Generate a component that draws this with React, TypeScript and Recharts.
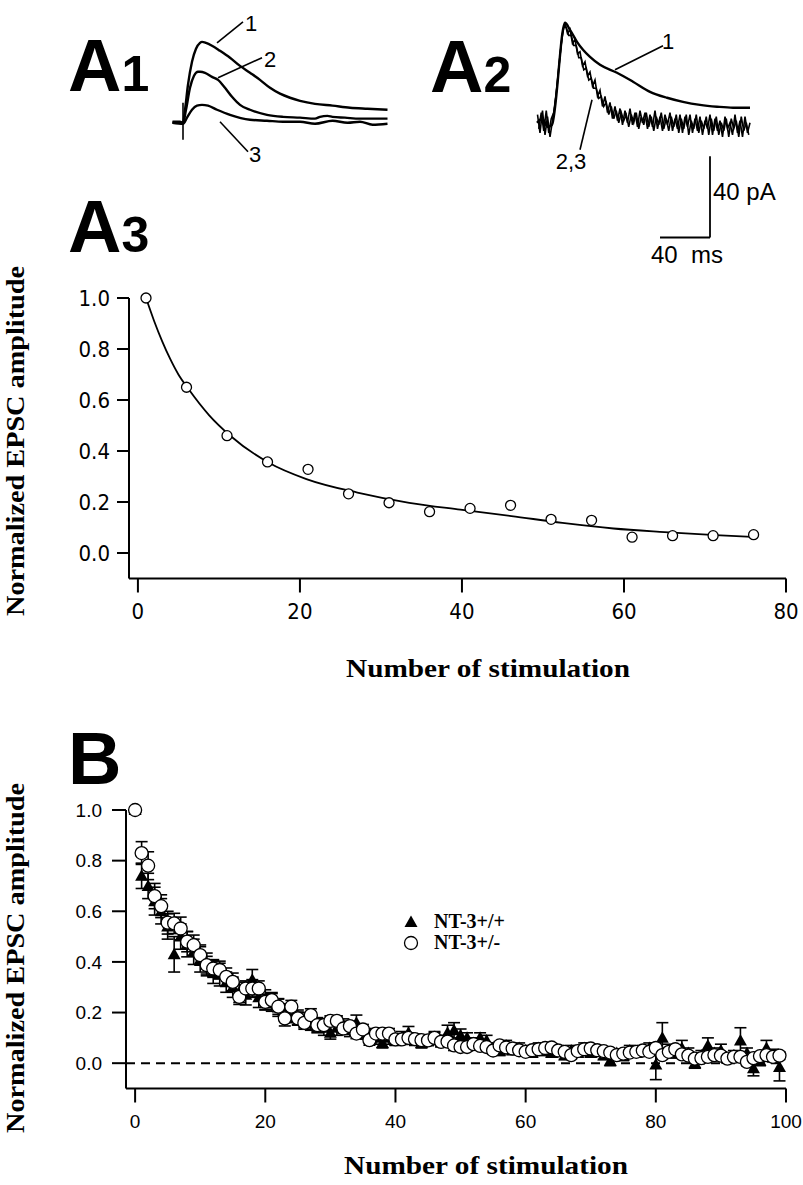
import React from "react";
import { ComposedChart, LineChart, Line, Scatter, XAxis, YAxis, ErrorBar, ReferenceLine, ReferenceDot, Legend } from "recharts";

// A1 / A2 traces: [time ms, current pA]
const a1Trace1 = [[6,0.5],[12,0.5],[14.4,0],[16,6.4],[18.4,18.7],[21.6,30],[24.8,36.4],[28,39.3],[29.6,39.8],[32.8,39.3],[37.6,37.9],[44,35.4],[52,32],[60,28],[68,24.6],[76,21.1],[84,17.2],[92,14.3],[100,12.3],[108,10.8],[120,9.3],[134,8.4],[148,7.4],[162,6.9],[178,6.4]];
const a1Trace2 = [[6,0],[14.4,0],[16.8,6.4],[20,17.2],[23.2,23.1],[26.4,25.1],[28,25.1],[32,24.6],[37.6,22.6],[42.4,21.1],[48,17.2],[53.6,12.8],[60,8.8],[68,6.4],[81.6,3.9],[94.4,2.9],[108,2.5],[120,2.0],[124,2.9],[130,3.4],[134,2.9],[144,2.5],[156,2.0],[178,2.0]];
const a1Trace3 = [[6,0],[14.4,-0.5],[17.6,2.5],[21.6,6.4],[25.6,8.4],[29.6,8.8],[34.4,8.4],[41.6,6.4],[52,3.9],[68,1.5],[81.6,1.0],[94.4,0.5],[108,0.5],[120,-0.5],[134,1.0],[146,0],[156,0.5],[166,-1],[178,-0.5]];
const a2Trace1 = [[5.6,0],[10,2],[14,-2],[17.6,-1],[28,49.2],[32,45.7],[37.6,39.8],[42.4,35.9],[48,32.4],[56,28.5],[69.6,24.6],[82.4,20.2],[96,15.2],[109.6,12.3],[122.4,10.3],[136,8.8],[149.6,7.9],[162.4,7.4],[176,7.4]];
const a2Trace2 = [[6,4],[8,-5],[10,6],[12,-6],[14,3],[16,-7],[18,1],[20,9],[22,20],[24,33],[26,44],[28,49],[30,44],[32,46],[34,39],[36,41],[38,34],[40,35],[42,28],[44,30],[46,23],[48,25],[50,18],[52,21],[54,13],[56,16],[58,8],[60,13],[62,5],[64,10],[66,2],[68,8],[70,1],[72,7],[74,-1],[76,6],[78,0],[80,7],[82,-1],[84,5],[86,-2],[88,6],[90,0],[92,5],[94,-3],[96,4],[98,-2],[100,6],[102,-3],[104,3],[106,-4],[108,4],[110,-1],[112,5],[114,-4],[116,2],[118,-3],[120,4],[122,-5],[124,3],[126,-2],[128,4],[130,-5],[132,2],[134,-4],[136,3],[138,-6],[140,1],[142,-3],[144,4],[146,-6],[148,2],[150,-4],[152,1],[154,-7],[156,3],[158,-3],[160,0],[162,-6],[164,4],[166,-5],[168,1],[170,-7],[172,3],[174,-5],[176,0]];
const a2Trace3 = [[7,-3],[9,5],[11,-4],[13,6],[15,-5],[17,2],[19,5],[21,15],[23,27],[25,39],[27,47],[29,47],[31,43],[33,43],[35,38],[37,38],[39,32],[41,32],[43,26],[45,27],[47,21],[49,22],[51,17],[53,17],[55,12],[57,13],[59,8],[61,10],[63,4],[65,8],[67,2],[69,6],[71,0],[73,5],[75,1],[77,4],[79,-2],[81,4],[83,0],[85,5],[87,-3],[89,3],[91,-1],[93,5],[95,-2],[97,3],[99,-4],[101,3],[103,-1],[105,5],[107,-3],[109,2],[111,-4],[113,3],[115,-2],[117,4],[119,-5],[121,2],[123,-3],[125,4],[127,-6],[129,1],[131,-3],[133,4],[135,-5],[137,1],[139,-3],[141,3],[143,-6],[145,2],[147,-4],[149,3],[151,-6],[153,0],[155,-4],[157,2],[159,-7],[161,2],[163,-3],[165,1],[167,-7],[169,3],[171,-4],[173,0],[175,-6]];

// trace labels and leader lines, in ms / pA
const a1Tags = [{ t: 68.8, v: 48.7, s: "1" }, { t: 84, v: 31, s: "2" }, { t: 72, v: -15.7, s: "3" }];
const a1Leaders = [[41.6, 39.3, 62.4, 49.7], [42.4, 22.1, 77.6, 32], [44, 0.5, 66.4, -14.3], [14.4, 9.8, 14.4, -8.4]];
const a2Tags = [{ t: 110.4, v: 39.8, s: "1" }, { t: 32.8, v: -19.2, s: "2,3" }];
const a2Leaders = [[68, 26.1, 106.4, 37.9], [49.6, 11.3, 40, -13.3]];
// scale bar: 40 ms x 40 pA
const scaleT = [104, 144];
const scaleV = [-56.5, -16.5];

// A3
const a3Stim = [1, 6, 11, 16, 21, 26, 31, 36, 41, 46, 51, 56, 61, 66, 71, 76];
const a3Amp = [1.0, 0.65, 0.46, 0.357, 0.328, 0.232, 0.197, 0.162, 0.175, 0.187, 0.132, 0.128, 0.062, 0.068, 0.068, 0.072];
const a3FitX = [1, 2, 3, 4, 5, 6.2, 8.8, 11.4, 16.1, 20.8, 27.1, 33.5, 39.8, 46.1, 52.4, 58.7, 65, 71.3, 75.8];
const a3FitY = [1.0, 0.91, 0.83, 0.76, 0.70, 0.645, 0.54, 0.46, 0.355, 0.29, 0.237, 0.197, 0.17, 0.145, 0.118, 0.096, 0.082, 0.07, 0.063];
const a3XTicks = [0, 20, 40, 60, 80];
const ampTicks = [0, 0.2, 0.4, 0.6, 0.8, 1.0];

// B, stimulation number = index
const bWt = [1.0,0.74,0.70,0.64,0.60,0.54,0.43,0.50,0.47,0.44,
  0.41,0.39,0.36,0.35,0.32,0.30,0.28,0.27,0.33,0.26,
  0.25,0.24,0.22,0.20,0.19,0.18,0.17,0.16,0.15,0.14,
  0.12,0.14,0.15,0.13,0.16,0.12,0.11,0.10,0.08,0.10,
  0.09,0.10,0.12,0.09,0.08,0.09,0.10,0.09,0.12,0.13,
  0.11,0.10,0.08,0.10,0.09,0.06,0.05,0.07,0.05,0.06,
  0.05,0.04,0.06,0.05,0.04,0.05,0.03,0.05,0.04,0.06,
  0.04,0.05,0.03,0.01,0.04,0.03,0.05,0.04,0.05,0.06,
  -0.005,0.10,0.05,0.04,0.06,0.04,0.00,0.03,0.07,0.04,
  0.05,0.02,0.03,0.09,0.04,-0.02,0.01,0.06,0.03,-0.015];
const bWtErr = [0,0.05,0.05,0.055,0.05,0.05,0.07,0.05,0.05,0.05,
  0.05,0.045,0.045,0.045,0.04,0.04,0.04,0.04,0.04,0.04,
  0.04,0.035,0.035,0.035,0.03,0.03,0.03,0.03,0.03,0.03,
  0.025,0.03,0.025,0.025,0.03,0.025,0.025,0.025,0.02,0.025,
  0.02,0.025,0.025,0.02,0.02,0.02,0.025,0.02,0.03,0.03,
  0.025,0.02,0.02,0.02,0.02,0.02,0.02,0.02,0.015,0.02,
  0.02,0.015,0.02,0.02,0.015,0.02,0.015,0.02,0.015,0.02,
  0.015,0.02,0.015,0.02,0.015,0.02,0.02,0.015,0.02,0.02,
  0.06,0.06,0.025,0.02,0.03,0.02,0.02,0.02,0.03,0.02,
  0.025,0.02,0.02,0.05,0.02,0.03,0.02,0.03,0.025,0.055];
const bHet = [1.0,0.83,0.78,0.66,0.62,0.555,0.552,0.532,0.48,0.466,
  0.427,0.387,0.374,0.368,0.341,0.321,0.262,0.295,0.295,0.295,
  0.242,0.249,0.223,0.177,0.223,0.177,0.159,0.19,0.15,0.15,
  0.167,0.167,0.137,0.146,0.117,0.133,0.091,0.117,0.117,0.117,
  0.094,0.094,0.1,0.095,0.091,0.09,0.1,0.084,0.085,0.07,
  0.064,0.064,0.075,0.068,0.064,0.05,0.07,0.062,0.058,0.051,
  0.045,0.051,0.055,0.06,0.062,0.05,0.045,0.032,0.048,0.055,
  0.058,0.051,0.048,0.042,0.032,0.038,0.042,0.045,0.05,0.045,
  0.06,0.032,0.045,0.055,0.035,0.03,0.018,0.02,0.025,0.032,
  0.03,0.018,0.025,0.025,0.005,0.02,0.028,0.032,0.025,0.03];
const bHetErr = [0,0.045,0.055,0.05,0.045,0.045,0.04,0.045,0.04,0.04,
  0.04,0.035,0.035,0.035,0.035,0.035,0.03,0.03,0.035,0.03,
  0.03,0.03,0.03,0.03,0.025,0.025,0.025,0.025,0.025,0.025,
  0.02,0.02,0.02,0.02,0.02,0.02,0.02,0.02,0.02,0.02,
  0.02,0.02,0.02,0.02,0.02,0.02,0.02,0.02,0.02,0.02,
  0.015,0.015,0.015,0.015,0.015,0.015,0.015,0.015,0.015,0.015,
  0.015,0.015,0.015,0.015,0.015,0.015,0.015,0.015,0.015,0.015,
  0.015,0.015,0.015,0.015,0.015,0.015,0.015,0.015,0.015,0.015,
  0.02,0.015,0.015,0.015,0.015,0.015,0.015,0.015,0.015,0.015,
  0.015,0.015,0.015,0.015,0.015,0.015,0.015,0.015,0.015,0.015];
const bXTicks = [0, 20, 40, 60, 80, 100];
const seriesNames = ["NT-3+/+", "NT-3+/-"];

const sans = '"Liberation Sans", Arial, Helvetica, sans-serif';
const narrow = '"DejaVu Sans Condensed", "Liberation Sans Narrow", sans-serif';
const serif = '"Liberation Serif", "Times New Roman", serif';

const toPts = (arr: number[][]) => arr.map(([t, v]) => ({ t, v }));
const a3Points = a3Stim.map((x, i) => ({ x, y: a3Amp[i] }));
const a3Fit = a3FitX.map((x, i) => ({ x, y: a3FitY[i] }));
const wtPoints = bWt.map((y, i) => ({ x: i, y, e: bWtErr[i] }));
const hetPoints = bHet.map((y, i) => ({ x: i, y, e: bHetErr[i] }));

const tag = (s: string, anchor = "middle", size = 22) => (p: any) => (
  <text x={p.cx} y={p.cy} textAnchor={anchor} dominantBaseline="central" fontSize={size} fontFamily={sans} fill="#000" style={{ whiteSpace: "pre" }}>{s}</text>
);
const ring = (r: number) => (p: any) => <circle cx={p.cx} cy={p.cy} r={r} fill="#fff" stroke="#000" strokeWidth={1.3} />;
const tri = (p: any) => <polygon points={`${p.cx},${p.cy - 6.5} ${p.cx - 6.5},${p.cy + 5} ${p.cx + 6.5},${p.cy + 5}`} fill="#000" />;

const yTitle = (cx: number, cy: number) => () => (
  <text x={cx} y={cy} transform={`rotate(-90 ${cx} ${cy})`} textAnchor="middle" fontFamily={serif} fontWeight="bold" fontSize={25} textLength={350} lengthAdjust="spacingAndGlyphs" fill="#000">Normalized EPSC amplitude</text>
);
const xTitle = (cx: number, cy: number) => () => (
  <text x={cx} y={cy} textAnchor="middle" dominantBaseline="central" fontFamily={serif} fontWeight="bold" fontSize={25} textLength={284} lengthAdjust="spacingAndGlyphs" fill="#000">Number of stimulation</text>
);

function TraceChart({ traces, tags, leaders, left, width, tmax, scale }: any) {
  return (
    <div style={{ position: "absolute", left, top: 10 }}>
      <LineChart width={width} height={260} margin={{ top: 0, right: 0, bottom: 0, left: 0 }}>
        <XAxis type="number" dataKey="t" domain={[0, tmax]} hide allowDataOverflow />
        <YAxis type="number" domain={[-72.5, 55.5]} hide allowDataOverflow />
        {traces.map((tr: any, i: number) => (
          <Line key={i} data={toPts(tr.d)} dataKey="v" type={tr.type} dot={false} stroke="#000" strokeWidth={tr.w} isAnimationActive={false} />
        ))}
        {leaders.map((l: number[], i: number) => (
          <ReferenceLine key={"l" + i} segment={[{ x: l[0], y: l[1] }, { x: l[2], y: l[3] }]} stroke="#000" strokeWidth={1.6} />
        ))}
        {tags.map((g: any, i: number) => (
          <ReferenceDot key={"g" + i} x={g.t} y={g.v} r={0} shape={tag(g.s, g.anchor || "middle", g.size || 22)} />
        ))}
        {scale && (
          <ReferenceLine segment={[{ x: scaleT[1], y: scaleV[0] }, { x: scaleT[1], y: scaleV[1] }]} stroke="#000" strokeWidth={1.8} />
        )}
        {scale && (
          <ReferenceLine segment={[{ x: scaleT[0], y: scaleV[0] }, { x: scaleT[1], y: scaleV[0] }]} stroke="#000" strokeWidth={1.8} />
        )}
      </LineChart>
    </div>
  );
}

const axisStyle = { stroke: "#000", strokeWidth: 2 };

export default function App() {
  const legendContent = () => (
    <div style={{ fontFamily: serif, fontWeight: "bold", fontSize: 20, color: "#000", lineHeight: "21px" }}>
      <div style={{ display: "flex", alignItems: "center" }}>
        <svg width={16} height={16} style={{ marginRight: 15 }}><polygon points="8,1.5 1.5,13 14.5,13" fill="#000" /></svg>
        {seriesNames[0]}
      </div>
      <div style={{ display: "flex", alignItems: "center" }}>
        <svg width={16} height={16} style={{ marginRight: 15 }}><circle cx={8} cy={8} r={6.5} fill="#fff" stroke="#000" strokeWidth={1.3} /></svg>
        {seriesNames[1]}
      </div>
    </div>
  );

  return (
    <div style={{ position: "absolute", left: 0, top: 0, width: 803, height: 1185, background: "#fff" }}>
      <svg width={803} height={1185} style={{ position: "absolute", left: 0, top: 0 }}>
        <g fontFamily={sans} fontWeight="900" fill="#000">
          <text x={68} y={91} fontSize={74}>A<tspan fontSize={50}>1</tspan></text>
          <text x={430} y={92} fontSize={74}>A<tspan fontSize={50}>2</tspan></text>
          <text x={68} y={252} fontSize={74}>A<tspan fontSize={50}>3</tspan></text>
          <text x={68} y={784} fontSize={74}>B</text>
        </g>
      </svg>

      <TraceChart left={165} width={240} tmax={192}
        traces={[{ d: a1Trace1, type: "monotone", w: 2.4 }, { d: a1Trace2, type: "monotone", w: 2.4 }, { d: a1Trace3, type: "monotone", w: 2.4 }]}
        tags={a1Tags} leaders={a1Leaders} />
      <TraceChart left={530} width={260} tmax={208} scale
        traces={[{ d: a2Trace2, type: "linear", w: 1.6 }, { d: a2Trace3, type: "linear", w: 1.6 }, { d: a2Trace1, type: "monotone", w: 2.4 }]}
        tags={[...a2Tags, { t: 146.4, v: -33.9, s: "40 pA", anchor: "start", size: 24 }, { t: 125.6, v: -64.9, s: "40  ms", size: 24 }]}
        leaders={a2Leaders} />

      <div style={{ position: "absolute", left: 0, top: 220 }}>
        <ComposedChart width={803} height={470} margin={{ top: 78, right: 17, bottom: 51.5, left: 69 }}>
          <XAxis type="number" dataKey="x" domain={[-1.1, 80]} ticks={a3XTicks} height={60}
            tickSize={14} tickMargin={11} axisLine={axisStyle} tickLine={axisStyle}
            tick={{ fontFamily: narrow, fontSize: 22, fill: "#000" }} label={{ content: xTitle(488, 448) }} />
          <YAxis type="number" dataKey="y" domain={[-0.1, 1]} ticks={ampTicks} width={60}
            tickSize={12} tickMargin={7} axisLine={axisStyle} tickLine={axisStyle} tickFormatter={(v: number) => v.toFixed(1)}
            tick={{ fontFamily: narrow, fontSize: 22, fill: "#000" }} label={{ content: yTitle(24, 221) }} />
          <Line data={a3Fit} dataKey="y" type="monotone" dot={false} stroke="#000" strokeWidth={1.8} isAnimationActive={false} />
          <Scatter data={a3Points} dataKey="y" shape={ring(5)} isAnimationActive={false} />
        </ComposedChart>
      </div>

      <div style={{ position: "absolute", left: 0, top: 720 }}>
        <ComposedChart width={803} height={465} margin={{ top: 90, right: 17, bottom: 36.5, left: 66 }}>
          <XAxis type="number" dataKey="x" domain={[-1.4, 100]} ticks={bXTicks} height={60}
            tickSize={14} tickMargin={12} axisLine={axisStyle} tickLine={axisStyle}
            tick={{ fontFamily: sans, fontSize: 19, fill: "#000" }} label={{ content: xTitle(486, 445) }} />
          <YAxis type="number" dataKey="y" domain={[-0.1, 1]} ticks={ampTicks} width={60}
            tickSize={14} tickMargin={10} axisLine={axisStyle} tickLine={axisStyle} tickFormatter={(v: number) => v.toFixed(1)}
            tick={{ fontFamily: sans, fontSize: 19, fill: "#000" }} label={{ content: yTitle(24, 238) }} />
          <ReferenceLine y={0} stroke="#000" strokeWidth={2} strokeDasharray="9 6" />
          <Scatter name={seriesNames[0]} data={wtPoints} dataKey="y" shape={tri} isAnimationActive={false}>
            <ErrorBar dataKey="e" direction="y" width={6} stroke="#000" strokeWidth={1.6} isAnimationActive={false} />
          </Scatter>
          <Scatter name={seriesNames[1]} data={hetPoints} dataKey="y" shape={ring(6.5)} isAnimationActive={false}>
            <ErrorBar dataKey="e" direction="y" width={6} stroke="#000" strokeWidth={1.6} isAnimationActive={false} />
          </Scatter>
          <Legend layout="vertical" align="center" verticalAlign="middle" content={legendContent}
            wrapperStyle={{ left: 403, top: 191, width: 140 }} />
        </ComposedChart>
      </div>
    </div>
  );
}
